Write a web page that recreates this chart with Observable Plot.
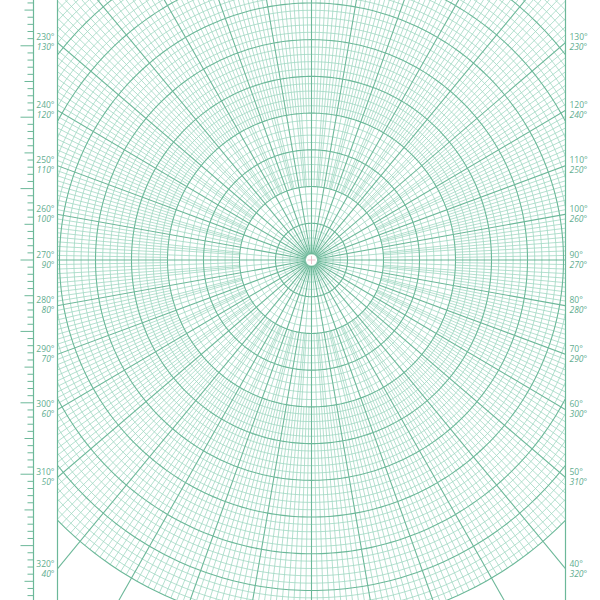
<!DOCTYPE html>
<html><head><meta charset="utf-8">
<script src="https://cdn.jsdelivr.net/npm/d3@7"></script>
<script src="https://cdn.jsdelivr.net/npm/@observablehq/plot@0.6"></script>
<style>body{margin:0;background:#fff;overflow:hidden}</style>
</head><body><div id="chart"></div>
<script>
// ---- grid definition (radii in px-like units, angles in degrees) ----
const majorRadii = [36, 72, 108, 144, 180, 216, 252, 288, 324, 360];
const minorCircleStep = 7.2;
const outerRadius = 360;
const hubRadius = 6;
// ray tiers: angular step (deg), start radius, end radius
const rayTiers = [
  {step: 5, r0: 6, r1: 360},
  {step: 2, r0: 72, r1: 360},
  {step: 1, r0: 144, r1: 360}
];
const majorRayStep = 10;
// side labels: angle above(+)/below(-) horizontal, left labels, right labels
const labelAngles = [40, 30, 20, 10, 0, -10, -20, -30, -40, -50];
const leftUpright = [230, 240, 250, 260, 270, 280, 290, 300, 310, 320];
const leftItalic  = [130, 120, 110, 100, 90, 80, 70, 60, 50, 40];
const rightUpright = [130, 120, 110, 100, 90, 80, 70, 60, 50, 40];
const rightItalic  = [230, 240, 250, 260, 270, 280, 290, 300, 310, 320];
// ruler (tenths of an inch)
const rulerStep = 7.0;

const halfWidth = 254;
const yTop = 254.4, yBottom = -333.8;
const rad = d => d * Math.PI / 180;

// circles
const minorCircles = d3.range(minorCircleStep, outerRadius + 0.01, minorCircleStep)
  .filter(r => !majorRadii.some(m => Math.abs(m - r) < 0.5));
const circlePts = (radii) => radii.flatMap(r => d3.range(0, 361, 1).map(a => ({r, x: r * Math.cos(rad(a)), y: r * Math.sin(rad(a))})));
const minorCirclePts = circlePts(minorCircles);
const majorCirclePts = circlePts(majorRadii);
const hubPts = circlePts([hubRadius]);

// rays
const rayMap = new Map();
for (const t of rayTiers) {
  for (let a = 0; a < 360; a += t.step) {
    if (a % majorRayStep === 0) continue;
    if (!rayMap.has(a) || rayMap.get(a).r0 > t.r0) rayMap.set(a, {a, r0: t.r0, r1: t.r1});
  }
}
const minorRayData = [...rayMap.values()];
const majorRayData = d3.range(0, 360, majorRayStep).map(a => ({a, r0: hubRadius, r1: 900}));

// labels
const labels = [];
labelAngles.forEach((ang, i) => {
  const yy = halfWidth * Math.tan(rad(ang));
  labels.push({x: -halfWidth - 3, y: yy, t: leftUpright[i] + "°", it: false, side: "end"});
  labels.push({x: -halfWidth - 3, y: yy, t: leftItalic[i] + "°", it: true, side: "end"});
  labels.push({x: halfWidth + 4, y: yy, t: rightUpright[i] + "°", it: false, side: "start"});
  labels.push({x: halfWidth + 4, y: yy, t: rightItalic[i] + "°", it: true, side: "start"});
});

// ruler ticks
const rulerTicks = d3.range(Math.ceil(yBottom / rulerStep), Math.floor(yTop / rulerStep) + 1).map(k => ({
  y: k * rulerStep, len: k % 10 === 0 ? 13 : (k % 5 === 0 ? 9 : 6)
}));
const rulerX = -278;

const majorColor = "#6cb899";
const minorColor = "#9bd5bf";
const textColor = "#62ad90";
const font = "Liberation Sans Narrow, Open Sans, sans-serif";

const plot = Plot.plot({
  width: 600, height: 600,
  marginLeft: 57, marginRight: 35, marginTop: 0, marginBottom: 0,
  x: {domain: [-halfWidth, halfWidth], axis: null},
  y: {domain: [yBottom, yTop], axis: null},
  style: {background: "#fff"},
  marks: [
    Plot.line(minorCirclePts, {x: "x", y: "y", z: "r", stroke: minorColor, strokeWidth: 0.75, clip: true}),
    Plot.link(minorRayData, {
      x1: d => d.r0 * Math.cos(rad(d.a)), y1: d => d.r0 * Math.sin(rad(d.a)),
      x2: d => d.r1 * Math.cos(rad(d.a)), y2: d => d.r1 * Math.sin(rad(d.a)),
      stroke: minorColor, strokeWidth: 0.75, clip: true}),
    Plot.line(majorCirclePts, {x: "x", y: "y", z: "r", stroke: majorColor, strokeWidth: 1.1, clip: true}),
    Plot.link(majorRayData, {
      x1: d => d.r0 * Math.cos(rad(d.a)), y1: d => d.r0 * Math.sin(rad(d.a)),
      x2: d => d.r1 * Math.cos(rad(d.a)), y2: d => d.r1 * Math.sin(rad(d.a)),
      stroke: majorColor, strokeWidth: 1.1, clip: true}),
    Plot.line(hubPts, {x: "x", y: "y", z: "r", stroke: majorColor, strokeWidth: 1, fill: "#fff", clip: true}),
    Plot.link([{x1: -4, y1: 0, x2: 4, y2: 0}, {x1: 0, y1: -4, x2: 0, y2: 4}], {x1: "x1", y1: "y1", x2: "x2", y2: "y2", stroke: "#e3b8c0", strokeWidth: 0.8}),
    Plot.ruleX([-halfWidth, halfWidth], {stroke: majorColor, strokeWidth: 1.2}),
    Plot.ruleX([rulerX], {stroke: majorColor, strokeWidth: 1.2}),
    Plot.link(rulerTicks, {x1: rulerX, x2: d => rulerX - d.len, y1: "y", y2: "y", stroke: majorColor, strokeWidth: 1}),
    Plot.text(labels.filter(d => !d.it && d.side === "end"), {x: "x", y: "y", text: "t", textAnchor: "end", dy: -5, fill: textColor, fontSize: 8.5, fontFamily: font}),
    Plot.text(labels.filter(d => d.it && d.side === "end"), {x: "x", y: "y", text: "t", textAnchor: "end", dy: 5, fill: textColor, fontSize: 8.5, fontStyle: "italic", fontFamily: font}),
    Plot.text(labels.filter(d => !d.it && d.side === "start"), {x: "x", y: "y", text: "t", textAnchor: "start", dy: -5, fill: textColor, fontSize: 8.5, fontFamily: font}),
    Plot.text(labels.filter(d => d.it && d.side === "start"), {x: "x", y: "y", text: "t", textAnchor: "start", dy: 5, fill: textColor, fontSize: 8.5, fontStyle: "italic", fontFamily: font})
  ]
});
document.getElementById("chart").append(plot);
</script>
</body></html>
